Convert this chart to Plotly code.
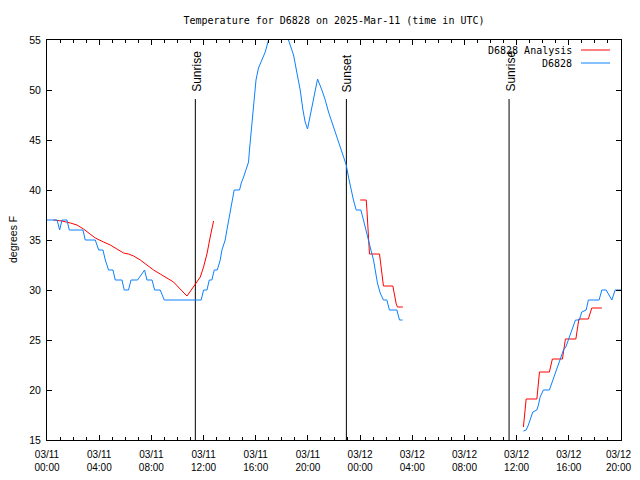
import plotly.graph_objects as go

# ---------------- data (hours since 2025-03-11 00:00 UTC) ----------------
obs_hours = [0.0, 0.77, 0.97, 1.15, 1.53, 1.71, 2.76, 2.93, 3.7, 3.96, 4.29, 4.47, 4.72, 5.06,
             5.23, 5.75, 5.92, 6.25, 6.44, 6.94, 7.48, 7.66, 8.05, 8.25, 8.68, 8.99, 11.82, 12.0,
             12.26, 12.44, 12.64, 12.82, 13.05, 13.28, 13.41, 13.66, 13.79, 13.92, 14.1, 14.22,
             14.35, 14.76, 14.89, 15.07, 15.27, 15.45, 15.52, 15.63, 15.76, 15.89, 16.02, 16.21,
             16.48, 16.73, 16.98, 17.3, 17.7, 18.1, 18.51, 18.9, 19.16, 19.41, 19.62, 19.79,
             19.97, 20.25, 20.48, 20.74, 21.07, 21.33, 21.58, 21.96, 22.34, 22.61, 22.94, 23.11,
             23.3, 23.49, 23.7, 24.06, 24.26, 24.47, 24.64, 24.83, 25.03, 25.16, 25.33, 25.54,
             25.79, 26.05, 26.25, 26.82, 27.02, 27.25, 31.0,
             36.52, 36.73, 36.9, 37.09, 37.24, 37.55, 37.67, 37.8, 37.93, 38.05, 38.51, 38.7,
             38.87, 39.08, 39.23, 39.41, 39.59, 39.77, 39.97, 40.15, 40.35, 40.51, 40.81, 40.99,
             41.33, 41.5, 42.32, 42.53, 42.86, 43.3, 43.55, 44.0]
obs_temps = [37, 37, 36, 37, 37, 36, 36, 35, 35, 34, 34, 33, 32, 32,
             31, 31, 30, 30, 31, 31, 32, 31, 31, 30, 30, 29, 29, 30,
             30, 31, 31, 32, 32, 33, 34, 35, 36, 37, 38, 39,
             40, 40, 40.7, 41.3, 42, 42.8, 44, 45.7, 47.7, 49.3, 51, 52.2,
             53, 53.8, 55, 56.5, 57.3, 56.5, 55, 53.5, 51.7, 50, 48, 46.8,
             46.1, 48, 49.5, 51.1, 50, 49, 47.8, 46.3, 45, 43.8, 42.5, 41.3,
             40, 39, 38, 38, 37, 36, 35, 34, 33, 32, 30.7, 29.7,
             29, 29, 28, 28, 27, 27, None,
             15.9, 16, 16.5, 17.2, 17.8, 18, 18.5, 19.3, 19.7, 20, 20, 20.7,
             21.3, 22, 22.7, 23.3, 24, 24.3, 25, 25.7, 26.3, 27, 27, 27.8,
             28, 29, 29, 30, 30, 29, 30, 30]

ana_hours = [0.5, 1.15, 1.79, 2.3, 2.8, 3.32, 3.7, 4.34, 4.85, 5.36, 5.87, 6.25, 6.64, 7.15,
             7.66, 8.17, 8.68, 9.2, 9.7, 10.21, 10.73, 11.11, 11.49, 11.75, 12.0, 12.26, 12.51,
             12.77, 18.0,
             24.01, 24.47, 24.52, 24.6, 24.67, 24.72, 25.49, 25.59, 25.69, 25.79, 26.51, 26.61,
             26.77, 26.87, 27.28, 32.0,
             36.52, 36.6, 36.73, 37.55, 37.62, 37.75, 38.51, 38.62, 38.74, 39.51, 39.59, 39.74,
             40.54, 40.61, 40.77, 41.5, 41.63, 41.76, 42.53]
ana_temps = [37.0, 36.9, 36.7, 36.5, 36.1, 35.6, 35.2, 34.8, 34.5, 34.1, 33.7, 33.6, 33.4, 33.0,
             32.5, 32.0, 31.6, 31.2, 30.8, 30.1, 29.4, 30.1, 30.8, 31.3, 32.3, 33.6, 35.3,
             36.9, None,
             39.0, 39.0, 38.1, 36.3, 34.3, 33.6, 33.6, 32.3, 31.5, 30.4, 30.4, 29.7,
             28.6, 28.3, 28.3, None,
             16.3, 17.5, 19.1, 19.1, 20.4, 21.8, 21.8, 22.4, 23.1, 23.1, 23.8, 25.1,
             25.1, 25.8, 27.1, 27.1, 27.7, 28.2, 28.2]

sun_hours = [11.37, 22.95, 35.42]
sun_labels = ["Sunrise", "Sunset", "Sunrise"]

tick_hours = [0, 4, 8, 12, 16, 20, 24, 28, 32, 36, 40, 44]
tick_labels = ["03/11<br>00:00", "03/11<br>04:00", "03/11<br>08:00", "03/11<br>12:00",
               "03/11<br>16:00", "03/11<br>20:00", "03/12<br>00:00", "03/12<br>04:00",
               "03/12<br>08:00", "03/12<br>12:00", "03/12<br>16:00", "03/12<br>20:00"]

series_names = ["D6828 Analysis", "D6828"]
series_colors = ["#ff0000", "#0a80ff"]

# ---------------- figure ----------------
# The page body has an 8px margin on every side, so the figure is drawn 8px in
# from the top-left and must stay within 624x464 to avoid page scrolling.
OFF = 8
W, H = 640 - 2 * OFF, 480 - 2 * OFF
PL, PT, PW, PH = 47, 40, 574, 400          # plot area in page pixels
ML, MT = PL - OFF, PT - OFF
MR, MB = W - ML - PW, H - MT - PH


def px_to_paper(px, py):
    return (px - PL) / PW, (PT + PH - py) / PH


fig = go.Figure()
fig.add_trace(go.Scatter(x=ana_hours, y=ana_temps, mode="lines", name=series_names[0],
                         line=dict(color=series_colors[0], width=1), connectgaps=False,
                         showlegend=False))
fig.add_trace(go.Scatter(x=obs_hours, y=obs_temps, mode="lines", name=series_names[1],
                         line=dict(color=series_colors[1], width=1), connectgaps=False,
                         showlegend=False))

mono = "DejaVu Sans Mono"
sans = "Liberation Sans"

# sunrise / sunset markers
for h, lab in zip(sun_hours, sun_labels):
    fig.add_shape(type="line", xref="x", yref="y", x0=h, x1=h, y0=15, y1=49.1,
                  line=dict(color="black", width=1), layer="below")
    fig.add_annotation(x=h, y=49.6, xref="x", yref="y", text=lab, textangle=-90,
                       showarrow=False, xanchor="center", yanchor="bottom", xshift=1,
                       font=dict(family=sans, size=12, color="black"))

# manual gnuplot-style legend (text then line sample); rows in page pixels
leg_rows_px = [50, 63]
for i, (nm, col) in enumerate(zip(series_names, series_colors)):
    xt, yp = px_to_paper(574, leg_rows_px[i])
    x0, _ = px_to_paper(581, leg_rows_px[i])
    x1, _ = px_to_paper(610, leg_rows_px[i])
    fig.add_annotation(x=xt, y=yp, xref="paper", yref="paper", text=nm,
                       showarrow=False, xanchor="right", yanchor="middle",
                       font=dict(family=mono, size=10, color="black"))
    fig.add_shape(type="line", xref="paper", yref="paper",
                  x0=x0, x1=x1, y0=yp, y1=yp, line=dict(color=col, width=1))

# y axis title
xa, _ = px_to_paper(13, 240)
fig.add_annotation(x=xa, y=0.5, xref="paper", yref="paper", text="degrees F",
                   textangle=-90, showarrow=False, xanchor="center", yanchor="middle",
                   font=dict(family=sans, size=10.5, color="black"))

# the last x tick label would be clipped by the figure edge, so it is drawn as a
# right-anchored annotation just inside the edge
axis_ticktext = tick_labels[:-1] + [""]
xl, yl = px_to_paper(631.5, 447.5)
fig.add_annotation(x=xl, y=yl, xref="paper", yref="paper", text=tick_labels[-1],
                   showarrow=False, xanchor="right", yanchor="top", align="center",
                   borderpad=0, font=dict(family=sans, size=10, color="black"))

fig.update_layout(
    width=W, height=H,
    margin=dict(l=ML, r=MR, t=MT, b=MB, pad=0, autoexpand=False),
    paper_bgcolor="white", plot_bgcolor="white",
    showlegend=False,
    title=dict(text="Temperature for D6828 on 2025-Mar-11 (time in UTC)",
               x=0.5, xref="paper", xanchor="center",
               y=1 - (20 - OFF) / H, yref="container", yanchor="middle",
               font=dict(family=mono, size=10, color="black")),
    xaxis=dict(range=[0, 44], tickmode="array", tickvals=tick_hours, ticktext=axis_ticktext,
               automargin=False, ticklabeloverflow="allow",
               ticks="inside", ticklen=5, tickcolor="black", tickwidth=1,
               ticklabelstandoff=5,
               showline=True, linecolor="black", linewidth=1, mirror="allticks",
               showgrid=False, zeroline=False,
               minor=dict(dtick=1, tick0=0, ticks="inside", ticklen=3, tickcolor="black",
                          showgrid=False),
               tickfont=dict(family=sans, size=10, color="black")),
    yaxis=dict(range=[15, 55], dtick=5, tick0=15, automargin=False,
               ticks="inside", ticklen=5, tickcolor="black", tickwidth=1,
               ticklabelstandoff=3,
               showline=True, linecolor="black", linewidth=1, mirror="allticks",
               showgrid=False, zeroline=False,
               tickfont=dict(family=sans, size=10.5, color="black")),
)

fig.write_html("out.html")
